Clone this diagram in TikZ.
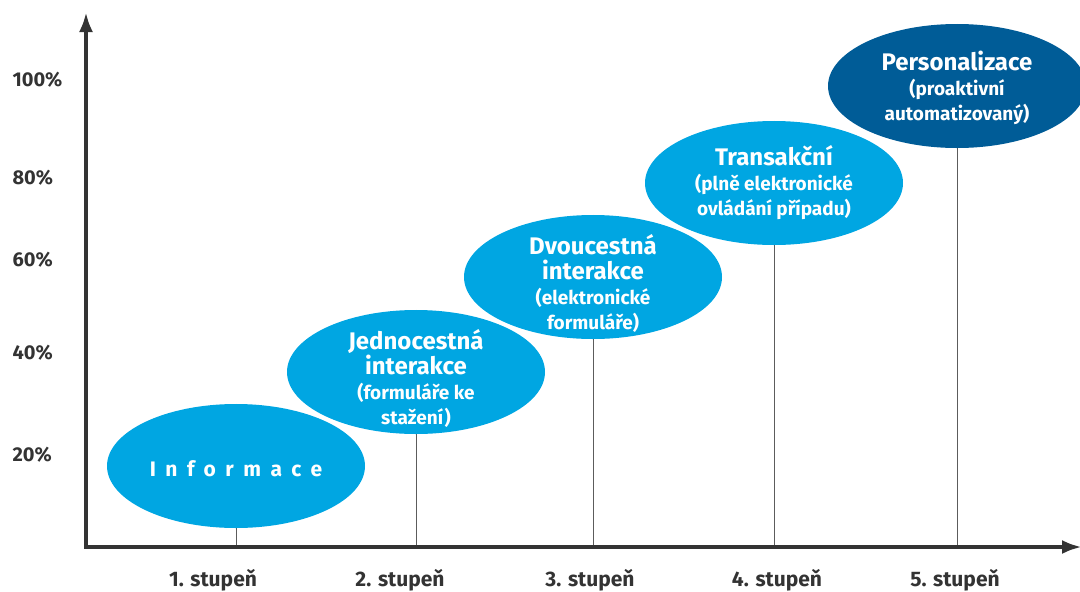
\documentclass[tikz,border=0pt]{standalone}
\usepackage{fontspec}
\setmainfont{Fira Sans}
\newfontfamily\spacedfont{Fira Sans}[LetterSpace=45]
\usepackage{tikz}
\usetikzlibrary{shapes.geometric, positioning, arrows.meta, backgrounds}
\definecolor{stepblue}{HTML}{00A6E2}
\definecolor{topblue}{HTML}{005C97}
\definecolor{axisgray}{HTML}{333333}
\newcommand{\bigline}{\fontsize{24}{25}\selectfont}
\newcommand{\smallline}{\fontsize{19}{25}\selectfont}
\tikzset{x=1pt, y=-1pt, % one unit is one pixel of the reference
stage/.style={ % Sets the properties for each stage ellipse
ellipse, fill=stepblue,
minimum width=258, minimum height=124, inner sep=0pt},
stagetext/.style={ % text laid over an ellipse
text=white, inner sep=0pt,
align=center, font=\bfseries\fontsize{19}{25}\selectfont},
axislabel/.style={text=axisgray, font=\bfseries\fontsize{21}{22}\selectfont},
percent/.style={axislabel, anchor=west, font=\bfseries\fontsize{20}{22}\selectfont},
axisline/.style={ % Sets the properties for both axes
draw=axisgray, line width=4pt, -{Latex[length=20pt,width=14pt]}},
riser/.style={draw=axisgray!80, line width=1pt}}

\begin{document}
\begin{tikzpicture}
    \useasboundingbox (0,0) rectangle (1080,592);

    \coordinate (o) at (86,547);
    \coordinate (ytop) at (86,12);
    \coordinate (xend) at (1082,547);

    \node[stage] (1) at (236,466) {};
    \node[stagetext] (t1) at ([yshift=-3]1.center) {\spacedfont\bfseries\fontsize{21}{22}\selectfont Informace};
    \node[stage] (2) at (416,372) {};
    \node[stagetext] (t2) at ([yshift=-6]2.center) {\bigline Jednocestná\\\bigline interakce\\\smallline (formuláře ke\\\smallline stažení)};
    \node[stage] (3) at (593,277) {};
    \node[stagetext] (t3) at ([yshift=-6]3.center) {\bigline Dvoucestná\\\bigline interakce\\\smallline (elektronické\\\smallline formuláře)};
    \node[stage] (4) at (774,183) {};
    \node[stagetext] (t4) at (4.center) {\bigline Transakční\\\smallline (plně elektronické\\\smallline ovládání případu)};
    \node[stage, fill=topblue] (5) at (957,86) {};
    \node[stagetext] (t5) at ([yshift=-2]5.center) {\bigline Personalizace\\\smallline (proaktivní\\\smallline automatizovaný)};

    \begin{scope}[on background layer]
    \foreach \i in {1,...,5}
        \draw[riser] (\i.north) -- (\i.north |- o);
    \end{scope}

    \draw[axisline] (o) -- (ytop);
    \draw[axisline] ([xshift=-2pt]o) -- (xend);

    % percent marks
    \node[percent] (p100) at (9,80) {100\%};
    \node[percent] (p80) at (9,178) {80\%};
    \node[percent] (p60) at (9,260) {60\%};
    \node[percent] (p40) at (9,353) {40\%};
    \node[percent] (p20) at (9,455) {20\%};

    % stage names under the axis
    \node[axislabel] (s1) at (213,580) {1. stupeň};
    \node[axislabel] (s2) at (400,580) {2. stupeň};
    \node[axislabel] (s3) at (590,580) {3. stupeň};
    \node[axislabel] (s4) at (777,580) {4. stupeň};
    \node[axislabel] (s5) at (955,580) {5. stupeň};

\end{tikzpicture}
\end{document}
